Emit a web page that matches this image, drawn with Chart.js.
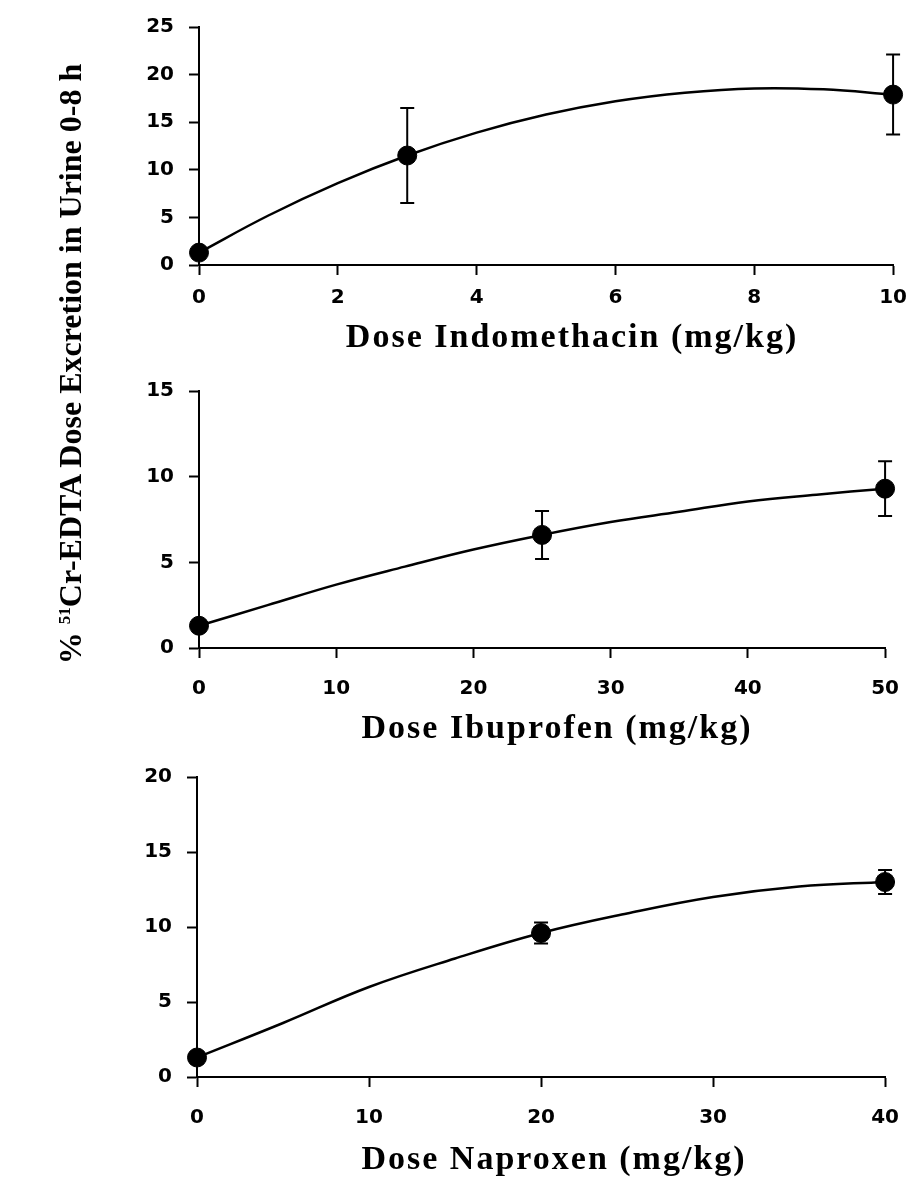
<!DOCTYPE html>
<html>
<head>
<meta charset="utf-8">
<script src="https://cdn.jsdelivr.net/npm/chart.js@4.4.1/dist/chart.umd.min.js"></script>
<style>
  html, body { margin: 0; padding: 0; background: #fff; }
  body { width: 918px; height: 1185px; position: relative; overflow: hidden; }
  canvas { position: absolute; left: 0; }
  #ytitle {
    position: absolute; left: -250px; top: 346px; width: 640px; text-align: center;
    transform: rotate(-90deg); font: bold 32px "Liberation Serif", serif; line-height: 36px;
    color: #000; white-space: nowrap;
  }
  #ytitle sup { font-size: 17px; vertical-align: 0.65em; line-height: 0; }
</style>
</head>
<body>
<canvas id="c1" width="918" height="359" style="top:0"></canvas>
<canvas id="c2" width="918" height="390" style="top:360px"></canvas>
<canvas id="c3" width="918" height="431" style="top:750px"></canvas>
<div id="ytitle">% <sup>51</sup>Cr-EDTA Dose Excretion in Urine 0-8 h</div>

<script>
// --- DADOS ---
const indoDose = [0, 3, 10];
const indoMean = [1.3, 11.5, 17.9];
const indoErr = [0, 5.0, 4.2];
const indoFitDose = [0, 1, 2, 3, 4, 5, 6, 7, 8, 9, 10];
const indoFit = [1.3, 5.2, 8.6, 11.5, 13.9, 15.8, 17.2, 18.1, 18.55, 18.45, 17.9];

const ibuDose = [0, 25, 50];
const ibuMean = [1.3, 6.6, 9.3];
const ibuErr = [0, 1.4, 1.6];
const ibuFitDose = [0, 5, 10, 15, 20, 25, 30, 35, 40, 45, 50];
const ibuFit = [1.3, 2.5, 3.7, 4.75, 5.75, 6.6, 7.35, 7.95, 8.55, 8.95, 9.3];

const napDose = [0, 20, 40];
const napMean = [1.3, 9.6, 13.0];
const napErr = [0, 0.7, 0.8];
const napFitDose = [0, 5, 10, 15, 20, 25, 30, 35, 40];
const napFit = [1.3, 3.6, 6.0, 7.9, 9.6, 10.9, 12.0, 12.7, 13.0];

const indoTicksX = [0, 2, 4, 6, 8, 10];
const ibuTicksX = [0, 10, 20, 30, 40, 50];
const napTicksX = [0, 10, 20, 30, 40];
const indoTicksY = [0, 5, 10, 15, 20, 25];
const ibuTicksY = [0, 5, 10, 15];
const napTicksY = [0, 5, 10, 15, 20];

// barras de erro (desenhadas com as escalas do Chart.js)
const errorBarPlugin = {
  id: 'errorBars',
  beforeDatasetsDraw(chart) {
    const { ctx, scales: { x, y } } = chart;
    const ds = chart.data.datasets[0];
    ctx.save();
    ctx.strokeStyle = '#000';
    ctx.lineWidth = 2;
    ds.data.forEach((pt, i) => {
      const e = ds.errors[i];
      if (!e) return;
      const px = x.getPixelForValue(pt.x);
      const top = y.getPixelForValue(pt.y + e);
      const bot = y.getPixelForValue(pt.y - e);
      ctx.beginPath();
      ctx.moveTo(px, top); ctx.lineTo(px, bot);
      ctx.moveTo(px - 7, top); ctx.lineTo(px + 7, top);
      ctx.moveTo(px - 7, bot); ctx.lineTo(px + 7, bot);
      ctx.stroke();
    });
    ctx.restore();
  }
};

// título do eixo x com letras espaçadas e deslocado
const spacedTitlePlugin = {
  id: 'spacedTitle',
  beforeDraw(chart) {
    const sx = chart.scales.x;
    if (sx._spaced) return;
    const orig = sx.drawTitle;
    const shift = chart.config.options.titleShift || 0;
    sx.drawTitle = function() {
      const c = this.ctx;
      c.save();
      c.letterSpacing = '2px';
      c.translate(shift, 0);
      orig.call(this);
      c.restore();
    };
    sx._spaced = true;
  }
};

const tickFont = { family: 'DejaVu Sans', weight: 'bold', size: 20 };

function buildPanel(id, p) {
  return new Chart(document.getElementById(id), {
    type: 'scatter',
    data: {
      datasets: [
        {
          data: p.dose.map((d, i) => ({ x: d, y: p.mean[i] })),
          errors: p.err,
          order: 0, pointRadius: 9.5, backgroundColor: '#000', borderColor: '#000', clip: false
        },
        {
          data: p.fitDose.map((d, i) => ({ x: d, y: p.fit[i] })),
          order: 1, showLine: true, pointRadius: 0, borderColor: '#000', borderWidth: 2.5,
          tension: 0.4, clip: false
        }
      ]
    },
    options: {
      responsive: false, animation: false, events: [],
      titleShift: p.titleShift,
      layout: { padding: { top: p.padTop, right: p.padRight, bottom: 0, left: 0 } },
      plugins: { legend: { display: false }, tooltip: { enabled: false } },
      scales: {
        x: {
          type: 'linear', min: 0, max: p.ticksX[p.ticksX.length - 1],
          afterBuildTicks: s => { s.ticks = p.ticksX.map(v => ({ value: v })); },
          ticks: { padding: p.xLabelPad, color: '#000', font: tickFont, maxRotation: 0 },
          grid: { drawOnChartArea: false, tickLength: 10, tickWidth: 2, tickColor: '#000' },
          border: { color: '#000', width: 2 },
          title: {
            display: true, text: p.title, color: '#000', padding: 0,
            font: { family: 'Liberation Serif', weight: 'bold', size: 34 }
          },
          afterFit: s => { s.height = p.xHeight; }
        },
        y: {
          type: 'linear', min: 0, max: p.ticksY[p.ticksY.length - 1],
          afterBuildTicks: s => { s.ticks = p.ticksY.map(v => ({ value: v })); },
          ticks: { padding: 15, color: '#000', font: tickFont },
          grid: { drawOnChartArea: false, tickLength: 10, tickWidth: 2, tickColor: '#000' },
          border: { color: '#000', width: 2 },
          afterFit: s => { s.width = p.yWidth; }
        }
      }
    },
    plugins: [errorBarPlugin, spacedTitlePlugin]
  });
}

buildPanel('c1', {
  dose: indoDose, mean: indoMean, err: indoErr, fitDose: indoFitDose, fit: indoFit,
  ticksX: indoTicksX, ticksY: indoTicksY, title: 'Dose Indomethacin (mg/kg)',
  padTop: 22, padRight: 17, yWidth: 199, xHeight: 94, xLabelPad: 11, titleShift: 26
});
buildPanel('c2', {
  dose: ibuDose, mean: ibuMean, err: ibuErr, fitDose: ibuFitDose, fit: ibuFit,
  ticksX: ibuTicksX, ticksY: ibuTicksY, title: 'Dose Ibuprofen (mg/kg)',
  padTop: 31, padRight: 21, yWidth: 199, xHeight: 102, xLabelPad: 19, titleShift: 15
});
buildPanel('c3', {
  dose: napDose, mean: napMean, err: napErr, fitDose: napFitDose, fit: napFit,
  ticksX: napTicksX, ticksY: napTicksY, title: 'Dose Naproxen (mg/kg)',
  padTop: 25, padRight: 20, yWidth: 197, xHeight: 104, xLabelPad: 19, titleShift: 13
});
</script>
</body>
</html>
